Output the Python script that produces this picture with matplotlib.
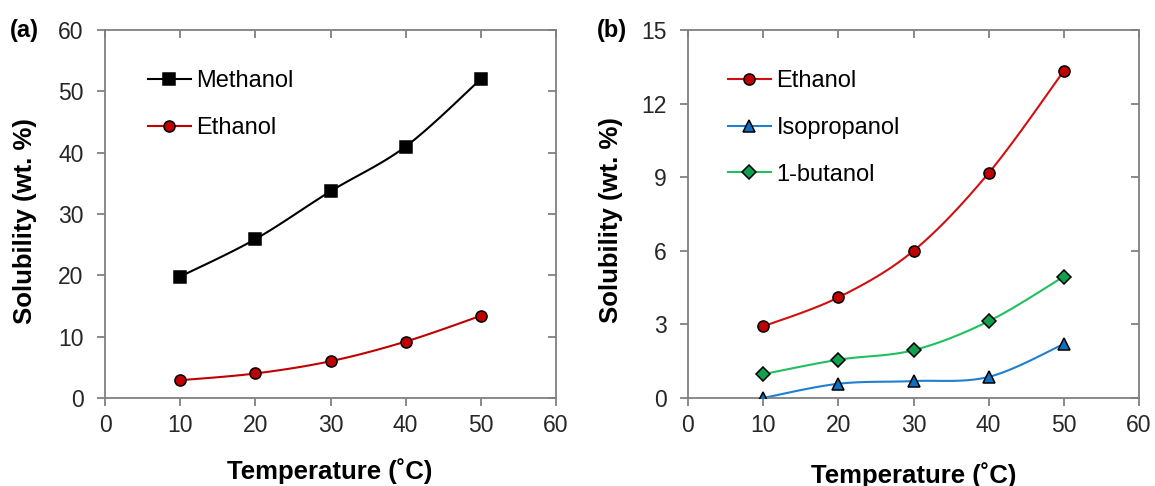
import numpy as np
import matplotlib
matplotlib.use("Agg")
import matplotlib.pyplot as plt

plt.rcParams['font.family'] = ['Liberation Sans', 'DejaVu Sans']

temps = [10, 20, 30, 40, 50]
methanol_a = [19.8, 25.9, 33.7, 41.0, 52.0]
ethanol_a = [2.9, 4.0, 6.0, 9.2, 13.4]
ethanol_b = [2.92, 4.1, 6.0, 9.17, 13.33]
isopropanol_b = [0.0, 0.58, 0.69, 0.86, 2.2]
butanol_b = [0.97, 1.56, 1.95, 3.13, 4.95]

xticks = [0, 10, 20, 30, 40, 50, 60]
yticks_a = [0, 10, 20, 30, 40, 50, 60]
yticks_b = [0, 3, 6, 9, 12, 15]


def smooth(x, y, n=30):
    # Excel-like smoothed line (Catmull-Rom style Bezier) drawn through the data points
    x = np.asarray(x, float); y = np.asarray(y, float)
    px = np.concatenate([[x[0]], x, [x[-1]]])
    py = np.concatenate([[y[0]], y, [y[-1]]])
    xs, ys = [], []
    t = np.linspace(0, 1, n)
    for i in range(1, len(px) - 2):
        p0 = np.array([px[i], py[i]]); p3 = np.array([px[i + 1], py[i + 1]])
        p1 = p0 + (np.array([px[i + 1], py[i + 1]]) - np.array([px[i - 1], py[i - 1]])) / 6.0
        p2 = p3 - (np.array([px[i + 2], py[i + 2]]) - np.array([px[i], py[i]])) / 6.0
        b = ((1 - t) ** 3)[:, None] * p0 + (3 * (1 - t) ** 2 * t)[:, None] * p1 + \
            (3 * (1 - t) * t ** 2)[:, None] * p2 + (t ** 3)[:, None] * p3
        xs.extend(b[:, 0]); ys.extend(b[:, 1])
    return xs, ys


W, H = 1155, 486
fig = plt.figure(figsize=(W / 100, H / 100), dpi=100)
ax1 = fig.add_axes([105 / W, (H - 398) / H, 451 / W, 368 / H])
ax2 = fig.add_axes([688 / W, (H - 398) / H, 451 / W, 368 / H])

spine_c = '#808080'
tick_c = '#262626'
TL = 5.5


def style(ax, yticks):
    ax.set_xlim(0, 60)
    ax.set_ylim(yticks[0], yticks[-1])
    ax.set_xticks(xticks)
    ax.set_yticks(yticks)
    for s in ax.spines.values():
        s.set_color(spine_c)
        s.set_linewidth(1.3)
    ax.tick_params(direction='out', length=TL, width=1.3, color=spine_c,
                   labelsize=16.5, labelcolor=tick_c)
    ax.tick_params(axis='x', pad=6)
    ax.tick_params(axis='y', pad=10)
    sx = ax.secondary_xaxis('top')
    sx.set_xticks(xticks)
    sx.tick_params(direction='in', length=TL, width=1.3, color=spine_c, labeltop=False)
    sx.spines['top'].set_visible(False)
    sy = ax.secondary_yaxis('right')
    sy.set_yticks(yticks)
    sy.tick_params(direction='in', length=TL, width=1.3, color=spine_c, labelright=False)
    sy.spines['right'].set_visible(False)


def series(ax, y, color, marker, ms, label, mfc=None):
    xs, ys = smooth(temps, y)
    ax.plot(xs, ys, color=color, lw=1.5, zorder=2)
    ax.plot(temps, y, linestyle='none', marker=marker, ms=ms, mfc=mfc or color,
            mec='black', mew=1.1, zorder=3)
    ax.plot([], [], color=color, lw=1.5, marker=marker, ms=ms, mfc=mfc or color,
            mec='black', mew=1.1, label=label)


style(ax1, yticks_a)
style(ax2, yticks_b)

series(ax1, methanol_a, 'black', 's', 9, 'Methanol')
series(ax1, ethanol_a, '#c00000', 'o', 8, 'Ethanol')

series(ax2, ethanol_b, '#d01010', 'o', 8, 'Ethanol', mfc='#c00000')
series(ax2, isopropanol_b, '#1f7fd0', '^', 8.5, 'Isopropanol', mfc='#1070c0')
series(ax2, butanol_b, '#20c060', 'D', 7.5, '1-butanol', mfc='#10a050')

for ax, x0 in ((ax1, 148), (ax2, 728)):
    ax.legend(loc='upper left', bbox_to_anchor=(x0 / W, 1 - 70 / H),
              bbox_transform=fig.transFigure, frameon=False,
              fontsize=17, handlelength=1.8, handletextpad=0.25, labelspacing=1.05,
              borderaxespad=0, borderpad=0)

fig.text(25 / W, 1 - 221 / H, 'Solubility (wt. %)', rotation=90, ha='center', va='center',
         fontsize=18.5, fontweight='bold')
fig.text(330 / W, 1 - 471 / H, 'Temperature (˚C)', ha='center', va='center',
         fontsize=18.5, fontweight='bold')
fig.text(611 / W, 1 - 220 / H, 'Solubility (wt. %)', rotation=90, ha='center', va='center',
         fontsize=18.5, fontweight='bold')
fig.text(914 / W, 1 - 475 / H, 'Temperature (˚C)', ha='center', va='center',
         fontsize=18.5, fontweight='bold')
fig.text(24 / W, 1 - 30 / H, '(a)', ha='center', va='center', fontsize=17, fontweight='bold')
fig.text(612 / W, 1 - 30 / H, '(b)', ha='center', va='center', fontsize=17, fontweight='bold')

fig.savefig('out.png', dpi=100)
